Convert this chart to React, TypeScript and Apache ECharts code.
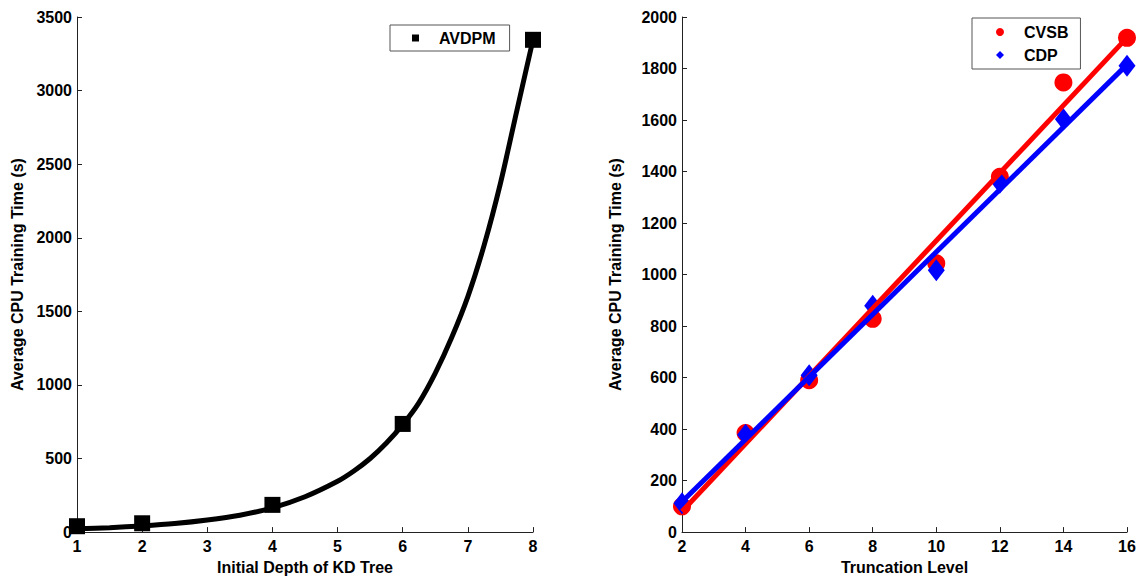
import React, { useEffect, useRef } from "react";
import * as echarts from "echarts";

const kdDepth = [1, 2, 4, 6, 8];
const avdpmTime = [40, 60, 185, 735, 3345];
const kdCurveDepth = [1, 1.5, 2, 2.5, 3, 3.5, 4, 4.5, 5, 5.25, 5.5, 5.75, 6, 6.25, 6.5, 6.75, 7, 7.25, 7.5, 7.75, 8];
const avdpmCurve = [22, 30, 42, 58, 82, 115, 165, 240, 345, 415, 500, 605, 730, 880, 1080, 1320, 1600, 1950, 2370, 2860, 3345];

const truncLevels = [2, 4, 6, 8, 10, 12, 14, 16];
const cvsbTime = [100, 385, 590, 828, 1044, 1380, 1746, 1919];
const cdpTime = [112, 378, 609, 879, 1017, 1356, 1603, 1811];
const truncFit = [2, 16];
const cvsbFit = [80, 1920];
const cdpFit = [118, 1815];

const FONT = "Liberation Sans, Arial, sans-serif";

export default function App() {
  const ref = useRef<HTMLDivElement>(null);
  useEffect(() => {
    if (!ref.current) return;
    const chart = echarts.init(ref.current, undefined, { renderer: "svg" });
    const axisLabel = {
      color: "#000", fontWeight: "bold" as const, fontSize: 16, fontFamily: FONT,
      formatter: (v: number) => String(v),
    };
    const nameStyle = { color: "#000", fontWeight: "bold" as const, fontSize: 16, fontFamily: FONT };
    const axisLine = { show: true, lineStyle: { color: "#222", width: 1 } };
    const axisTick = { show: true, inside: true, length: 5, lineStyle: { color: "#222" } };
    const zip = (xs: number[], ys: number[]) => xs.map((x, i) => [x, ys[i]]);
    chart.setOption({
      animation: false,
      backgroundColor: "#fff",
      grid: [
        { left: 77, right: 611, top: 17, bottom: 44 },
        { left: 682, right: 17, top: 17, bottom: 44 },
      ],
      xAxis: [
        {
          type: "value", gridIndex: 0, min: 1, max: 8, interval: 1,
          name: "Initial Depth of KD Tree", nameLocation: "middle", nameGap: 26, nameTextStyle: nameStyle,
          axisLine, axisTick, axisLabel: { ...axisLabel, margin: 6 }, splitLine: { show: false },
        },
        {
          type: "value", gridIndex: 1, min: 2, max: 16, interval: 2,
          name: "Truncation Level", nameLocation: "middle", nameGap: 26, nameTextStyle: nameStyle,
          axisLine, axisTick, axisLabel: { ...axisLabel, margin: 6 }, splitLine: { show: false },
        },
      ],
      yAxis: [
        {
          type: "value", gridIndex: 0, min: 0, max: 3500, interval: 500,
          name: "Average CPU Training Time (s)", nameLocation: "middle", nameGap: 52, nameTextStyle: nameStyle,
          axisLine, axisTick, axisLabel: { ...axisLabel, margin: 5 }, splitLine: { show: false },
        },
        {
          type: "value", gridIndex: 1, min: 0, max: 2000, interval: 200,
          name: "Average CPU Training Time (s)", nameLocation: "middle", nameGap: 59, nameTextStyle: nameStyle,
          axisLine, axisTick, axisLabel: { ...axisLabel, margin: 5 }, splitLine: { show: false },
        },
      ],
      legend: [
        {
          data: [{ name: "AVDPM", icon: "rect" }],
          left: 390, top: 25, padding: [5, 14, 5, 22],
          itemWidth: 7, itemHeight: 7,
          backgroundColor: "#fff", borderColor: "#555", borderWidth: 1,
          textStyle: { ...nameStyle, padding: [0, 0, 0, 15] },
        },
        {
          data: [{ name: "CVSB", icon: "circle" }, { name: "CDP", icon: "diamond" }],
          left: 972, top: 18, orient: "vertical", padding: [6, 12, 6, 24], itemGap: 7,
          itemWidth: 8, itemHeight: 8,
          backgroundColor: "#fff", borderColor: "#555", borderWidth: 1,
          textStyle: { ...nameStyle, padding: [0, 0, 0, 15] },
        },
      ],
      series: [
        {
          name: "AVDPM fit", type: "line", xAxisIndex: 0, yAxisIndex: 0,
          data: zip(kdCurveDepth, avdpmCurve), smooth: 0.3, showSymbol: false,
          lineStyle: { color: "#000", width: 5 }, z: 2,
        },
        {
          name: "AVDPM", type: "scatter", xAxisIndex: 0, yAxisIndex: 0,
          data: zip(kdDepth, avdpmTime), symbol: "rect", symbolSize: 16,
          itemStyle: { color: "#000", opacity: 1 }, z: 3,
        },
        {
          name: "CVSB", type: "scatter", xAxisIndex: 1, yAxisIndex: 1,
          data: zip(truncLevels, cvsbTime), symbol: "circle", symbolSize: 18,
          itemStyle: { color: "#ff0000", opacity: 1 }, z: 2,
        },
        {
          name: "CDP", type: "scatter", xAxisIndex: 1, yAxisIndex: 1,
          data: zip(truncLevels, cdpTime), symbol: "diamond", symbolSize: [17, 22],
          itemStyle: { color: "#0000ff", opacity: 1 }, z: 3,
        },
        {
          name: "CVSB fit", type: "line", xAxisIndex: 1, yAxisIndex: 1,
          data: zip(truncFit, cvsbFit), showSymbol: false,
          lineStyle: { color: "#ff0000", width: 5 }, z: 4,
        },
        {
          name: "CDP fit", type: "line", xAxisIndex: 1, yAxisIndex: 1,
          data: zip(truncFit, cdpFit), showSymbol: false,
          lineStyle: { color: "#0000ff", width: 5 }, z: 5,
        },
      ],
    });
    return () => chart.dispose();
  }, []);
  return (
    <div
      ref={ref}
      style={{ position: "absolute", left: 0, top: 0, width: 1144, height: 580 }}
    />
  );
}
